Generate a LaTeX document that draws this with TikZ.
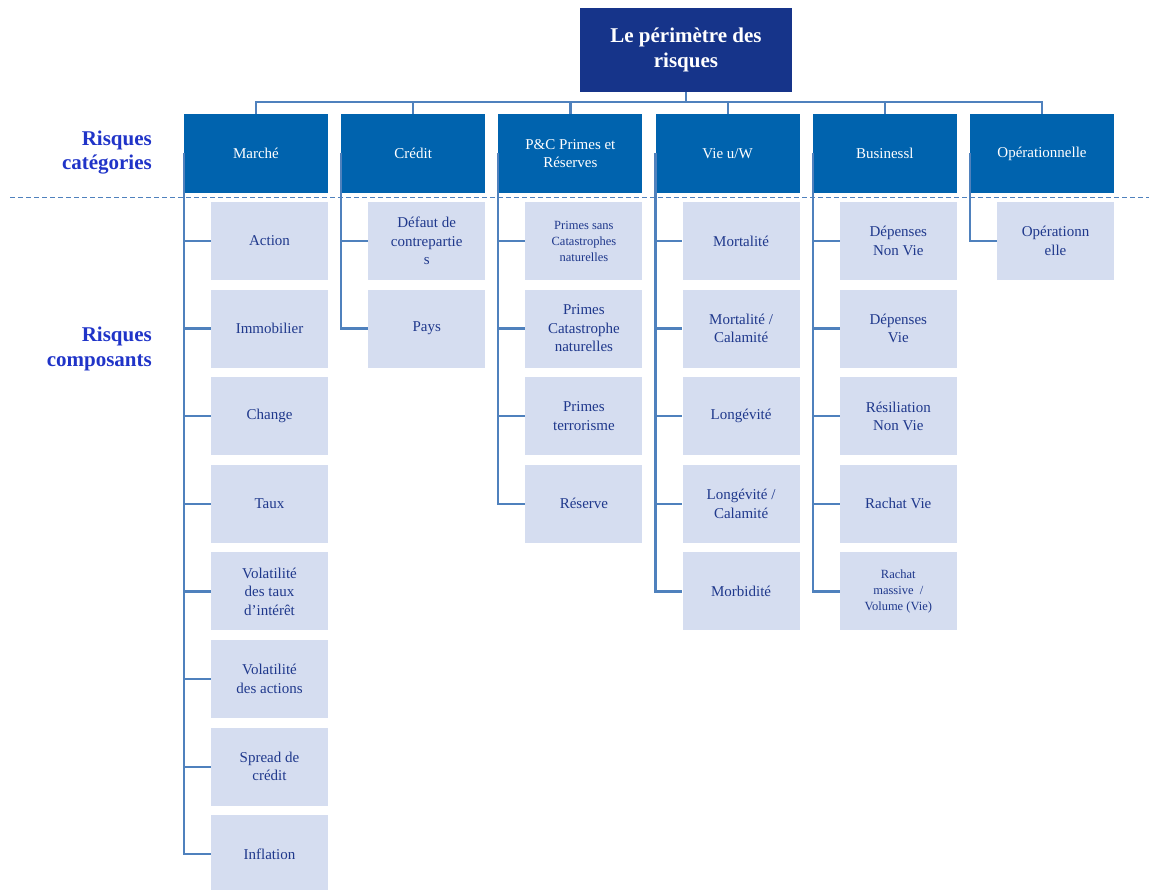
\documentclass[tikz,border=0pt]{standalone}
\usepackage{fontspec}
\setmainfont{Liberation Serif}
\definecolor{topblue}{RGB}{22,52,138}
\definecolor{catblue}{RGB}{0,99,174}
\definecolor{compfill}{RGB}{213,221,240}
\definecolor{comptext}{RGB}{31,56,140}
\definecolor{linkblue}{RGB}{79,129,189}
\definecolor{labelblue}{RGB}{32,52,200}
\tikzset{
  topbox/.style={fill=topblue, text=white, minimum width=212pt, minimum height=84pt,
    align=center, inner sep=0pt, font=\bfseries\fontsize{21}{25}\selectfont},
  catbox/.style={fill=catblue, text=white, minimum width=144pt, minimum height=79pt,
    align=center, inner sep=0pt, font=\fontsize{15}{18.5}\selectfont},
  compbox/.style={fill=compfill, text=comptext, minimum width=117pt, minimum height=78pt,
    align=center, inner sep=0pt, font=\fontsize{15}{18.5}\selectfont},
  compsmall/.style={compbox, font=\fontsize{12.5}{16}\selectfont},
  sidelabel/.style={anchor=east, align=right, text=labelblue, inner sep=0pt,
    font=\bfseries\fontsize{21}{24.5}\selectfont},
  link/.style={draw=linkblue, line width=2.2pt},
  sepline/.style={draw=linkblue, line width=1.7pt, dash pattern=on 5pt off 3pt}
}
\begin{document}
\begin{tikzpicture}[x=1pt,y=-1pt]
    \useasboundingbox (0,0) rectangle (1149,890);
    %% head of the tree
    \node[topbox] (top) at (686,50) {Le périmètre des\\risques};
    %% categories
    \node[catbox] (mar) at (256,153.5) {Marché};
    \node[catbox] (cre) at (413.2,153.5) {Crédit};
    \node[catbox] (pc)  at (570.4,153.5) {P\&C Primes et\\Réserves};
    \node[catbox] (vie) at (727.6,153.5) {Vie u/W};
    \node[catbox] (biz) at (884.8,153.5) {Businessl};
    \node[catbox] (ope) at (1042,153.5) {Opérationnelle};
    %% side labels and separation line
    \node[sidelabel] (lcat)  at (152,152.5) {Risques\\catégories};
    \node[sidelabel] (lcomp) at (152,349) {Risques\\composants};
    \draw[sepline] (10,197.5) -- (1149,197.5);
    %% bus from the head to the categories
    \coordinate (fork) at (686,102);
    \foreach \c in {mar,cre,pc,vie,biz,ope}
        \draw[link] (top.south) |- (fork) -| (\c.north);
    %% components (row pitch 87.6)
    \foreach \t [count=\i] in {Action, Immobilier, Change, Taux,
        {Volatilité\\des taux\\d'intérêt}, {Volatilité\\des actions},
        {Spread de\\crédit}, Inflation}
        \node[compbox] (mar\i) at (269.5,{241+87.6*(\i-1)}) {\t};
    \foreach \t [count=\i] in {{Défaut de\\contrepartie\\s}, Pays}
        \node[compbox] (cre\i) at (426.7,{241+87.6*(\i-1)}) {\t};
    \node[compsmall] (pc1) at (583.9,241) {Primes sans\\Catastrophes\\naturelles};
    \foreach \t [count=\i from 2] in {{Primes\\Catastrophe\\naturelles},
        {Primes\\terrorisme}, Réserve}
        \node[compbox] (pc\i) at (583.9,{241+87.6*(\i-1)}) {\t};
    \foreach \t [count=\i] in {Mortalité, {Mortalité /\\Calamité}, Longévité,
        {Longévité /\\Calamité}, Morbidité}
        \node[compbox] (vie\i) at (741.1,{241+87.6*(\i-1)}) {\t};
    \foreach \t [count=\i] in {{Dépenses\\Non Vie}, {Dépenses\\Vie},
        {Résiliation\\Non Vie}, Rachat Vie}
        \node[compbox] (biz\i) at (898.3,{241+87.6*(\i-1)}) {\t};
    \node[compsmall] (biz5) at (898.3,591.4) {Rachat\\massive~~/\\Volume (Vie)};
    \node[compbox] (ope1) at (1055.5,241) {Opérationn\\elle};
    %% connectors down the left side of each category
    \foreach \i in {1,...,8} \draw[link] (mar.west) |- (mar\i.west);
    \foreach \i in {1,2} \draw[link] (cre.west) |- (cre\i.west);
    \foreach \i in {1,...,4} \draw[link] (pc.west) |- (pc\i.west);
    \foreach \i in {1,...,5} \draw[link] (vie.west) |- (vie\i.west);
    \foreach \i in {1,...,5} \draw[link] (biz.west) |- (biz\i.west);
    \draw[link] (ope.west) |- (ope1.west);
\end{tikzpicture}
\end{document}
